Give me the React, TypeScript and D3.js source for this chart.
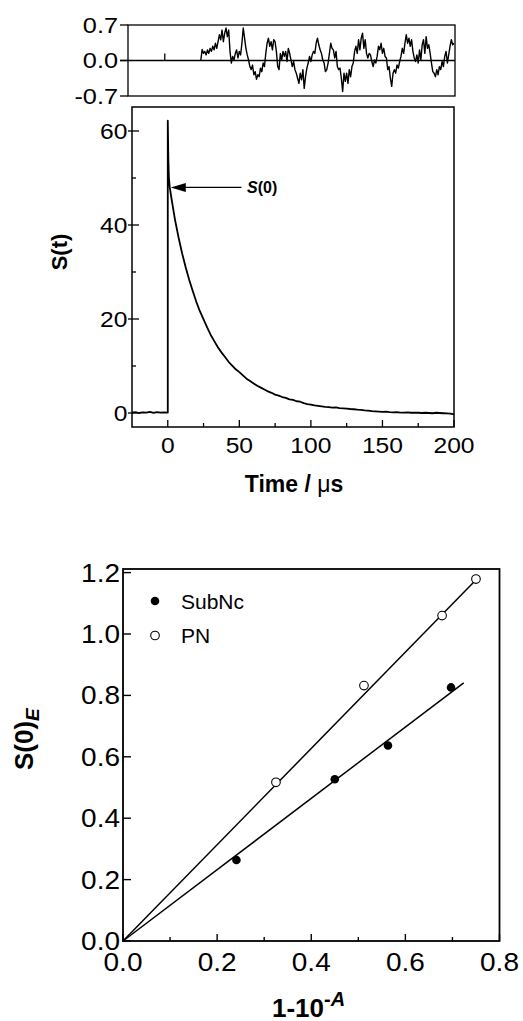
import React from "react";
import * as d3 from "d3";

const FONT = "'Liberation Sans', Arial, Helvetica, sans-serif";

// ---------- Residual panel data ----------
const residualTicks = [-0.7, 0.0, 0.7];
const residualStartTime = 23.1;
const residualEndTime = 200;
const residualValues = [
  0.01, 0.22, 0.14, 0.18, 0.11, 0.21, 0.14, 0.24, 0.18, 0.28, 0.21, 0.34, 0.24, 0.37, 0.51, 0.41,
  0.6, 0.37, 0.54, 0.64, 0.47, 0.6, 0.18, -0.05, 0.08, 0.01, 0.14, 0.21, 0.05, 0.18, 0.11, 0.34,
  0.64, 0.44, 0.24, 0.11, 0.01, -0.12, -0.18, -0.09, -0.28, -0.22, -0.37, -0.28, -0.32, -0.15, -0.22, -0.05,
  -0.12, 0.14, 0.34, 0.44, 0.28, 0.37, 0.21, 0.41, 0.37, 0.18, -0.12, -0.18, 0.14, 0.01, 0.18, 0.08,
  0.18, -0.02, 0.24, 0.14, 0.01, -0.12, -0.02, -0.18, -0.25, -0.35, -0.45, -0.25, -0.38, -0.18, -0.55, -0.32,
  -0.15, -0.05, 0.08, -0.02, 0.11, 0.18, 0.14, 0.34, 0.44, 0.31, 0.21, 0.14, 0.01, -0.05, -0.22, -0.18,
  -0.05, 0.14, 0.34, 0.24, 0.21, 0.05, 0.18, -0.12, -0.18, -0.15, -0.35, -0.61, -0.25, -0.41, -0.25, -0.45,
  -0.18, -0.32, -0.12, -0.05, 0.18, 0.28, 0.14, 0.41, 0.21, 0.44, 0.54, 0.24, 0.41, 0.14, 0.05, 0.14,
  0.11, -0.02, -0.12, 0.01, -0.05, 0.08, 0.28, 0.21, 0.34, 0.14, 0.24, 0.08, 0.05, -0.18, -0.12, -0.35,
  -0.51, -0.25, -0.18, -0.25, -0.09, -0.15, -0.02, 0.08, 0.24, 0.14, 0.34, 0.51, 0.34, 0.44, 0.28, 0.41,
  0.18, 0.05, -0.02, 0.11, -0.05, 0.21, 0.01, 0.31, 0.41, 0.14, 0.47, 0.24, 0.31, 0.14, -0.05, -0.22,
  -0.25, -0.32, -0.18, -0.28, -0.12, -0.18, -0.02, -0.12, 0.08, 0.18, -0.05, 0.11, 0.28, 0.41, 0.31, 0.34,
];
const residualGlitchTime = [-2.1, -2.1];
const residualGlitchValue = [0.0, 0.14];

// ---------- Decay trace data ----------
const decayTime = [
  -25, -22.5, -20, -17.5, -15, -12.5, -10, -7.5, -5, -2.5, 0, 0, 0.4, 0.8, 1.4, 2.5, 5, 7.5, 10, 12.5, 15,
  17.5, 20, 22.5, 25, 27.5, 30, 32.5, 35, 37.5, 40, 42.5, 45, 47.5, 50, 52.5, 55, 57.5, 60, 62.5, 65,
  67.5, 70, 72.5, 75, 77.5, 80, 82.5, 85, 87.5, 90, 92.5, 95, 97.5, 100, 102.5, 105, 107.5, 110, 112.5,
  115, 117.5, 120, 122.5, 125, 127.5, 130, 132.5, 135, 137.5, 140, 142.5, 145, 147.5, 150, 152.5, 155,
  157.5, 160, 162.5, 165, 167.5, 170, 172.5, 175, 177.5, 180, 182.5, 185, 187.5, 190, 192.5, 195, 197.5, 200,
];
const decayValue = [
  0.1, 0.2, 0.0, 0.15, 0.1, 0.25, 0.05, 0.2, 0.1, 0.15, 0.1, 62.2, 54, 50, 48, 45.8, 41.2, 37.4, 34.0, 31.0, 28.3,
  25.9, 23.6, 21.6, 19.9, 18.2, 16.6, 15.3, 14.0, 12.9, 11.9, 10.9, 10.1, 9.3, 8.7, 8.0, 7.3, 6.8, 6.3, 5.8, 5.4,
  5.0, 4.6, 4.3, 3.9, 3.7, 3.4, 3.2, 2.9, 2.8, 2.5, 2.4, 2.1, 1.9, 1.8, 1.6, 1.5, 1.4, 1.3, 1.25,
  1.15, 1.2, 1.05, 1.0, 0.95, 0.85, 0.8, 0.7, 0.65, 0.55, 0.5, 0.4, 0.35, 0.3, 0.25, 0.3, 0.2,
  0.15, 0.2, 0.1, 0.1, 0.15, 0.05, 0.1, 0.05, 0.0, 0.05, 0.0, -0.05, 0.05, 0.0, -0.05, -0.1, -0.15, -0.3,
];
const decayXTicks = [0, 50, 100, 150, 200];
const decayXMinor = [25, 75, 125, 175];
const decayYTicks = [0, 20, 40, 60];
const decayYMinor = [10, 30, 50];
const annotationTime = 1.4;
const annotationValue = 48;

// ---------- Bottom chart data ----------
const seriesNames = ["SubNc", "PN"];
const subncX = [0.241, 0.45, 0.563, 0.697];
const subncY = [0.264, 0.527, 0.637, 0.826];
const pnX = [0.325, 0.512, 0.678, 0.75];
const pnY = [0.517, 0.832, 1.06, 1.179];
const subncFitX = [0, 0.724];
const subncFitY = [0, 0.841];
const pnFitX = [0, 0.757];
const pnFitY = [0, 1.187];
const bottomXTicks = [0, 0.2, 0.4, 0.6, 0.8];
const bottomXMinor = [0.1, 0.3, 0.5, 0.7];
const bottomYTicks = [0, 0.2, 0.4, 0.6, 0.8, 1.0, 1.2];

function SText(props: {
  x: number;
  y: number;
  sx: number;
  size: number;
  anchor?: "start" | "middle" | "end";
  children: React.ReactNode;
}) {
  return (
    <text
      transform={`translate(${props.x},${props.y}) scale(${props.sx},1)`}
      textAnchor={props.anchor || "start"}
      fontSize={props.size}
      fontFamily={FONT}
    >
      {props.children}
    </text>
  );
}

export default function App() {
  // main decay panel
  const mL = 132, mR = 454, mT = 107, mB = 427;
  const x = d3.scaleLinear().domain([-25, 200]).range([mL, mR]);
  const y = d3.scaleLinear().domain([0, 60]).range([413, 131]);

  // residual panel
  const rL = 128, rR = 455, rT = 25, rB = 96;
  const yr = d3.scaleLinear().domain([-0.7, 0.7]).range([rB, rT]);
  const idxToTime = d3.scaleLinear().domain([0, residualValues.length - 1]).range([residualStartTime, residualEndTime]);

  const resLine = d3.line<number>().x((_, i) => x(idxToTime(i))).y((d) => yr(d));
  const glitchLine = d3.line<number>().x((_, i) => x(residualGlitchTime[i])).y((d) => yr(d));
  const decayLine = d3.line<number>().x((_, i) => x(decayTime[i])).y((d) => y(d));

  // bottom panel
  const bL = 123, bR = 499.5, bT = 569, bB = 941;
  const bx = d3.scaleLinear().domain([0, 0.8]).range([bL, bR]);
  const by = d3.scaleLinear().domain([0, 1.2]).range([bB, 572.6]);
  const fit = d3.line<number>();

  const bold = { fontFamily: FONT, fontWeight: 700 } as const;
  const reg = { fontFamily: FONT } as const;

  return (
    <svg width={523} height={1021} style={{ position: "absolute", left: 0, top: 0, background: "#fff" }}>
      <rect x={0} y={0} width={523} height={1021} fill="#fff" />
      {/* ===== Residual panel ===== */}
      <rect x={rL} y={rT} width={rR - rL} height={rB - rT} fill="none" stroke="#000" strokeWidth={1.3} />
      <line x1={rL - 8} x2={rR} y1={yr(0)} y2={yr(0)} stroke="#000" strokeWidth={1.3} />
      {residualTicks.map((t) => (
        <g key={"rt" + t}>
          <line x1={rL - 8} x2={rL} y1={yr(t)} y2={yr(t)} stroke="#000" strokeWidth={1.3} />
          <SText x={118} y={yr(t) + 7.5} sx={1.15} size={22} anchor="end">
            {t.toFixed(1)}
          </SText>
        </g>
      ))}
      <path d={resLine(residualValues) || ""} fill="none" stroke="#000" strokeWidth={1.4} strokeLinejoin="round" />
      <path d={glitchLine(residualGlitchValue) || ""} fill="none" stroke="#000" strokeWidth={1.3} />

      {/* ===== Decay panel ===== */}
      <rect x={mL} y={mT} width={mR - mL} height={mB - mT} fill="none" stroke="#000" strokeWidth={1.5} />
      {decayYTicks.map((t) => (
        <g key={"yt" + t}>
          <line x1={mL - 4} x2={mL + 7} y1={y(t)} y2={y(t)} stroke="#000" strokeWidth={1.3} />
          <SText x={127.5} y={y(t) + 7.5} sx={1.12} size={22} anchor="end">
            {t}
          </SText>
        </g>
      ))}
      {decayYMinor.map((t) => (
        <line key={"ym" + t} x1={mL} x2={mL + 4} y1={y(t)} y2={y(t)} stroke="#000" strokeWidth={1.3} />
      ))}
      {decayXTicks.map((t) => (
        <g key={"xt" + t}>
          <line x1={x(t)} x2={x(t)} y1={mB} y2={mB - 7} stroke="#000" strokeWidth={1.3} />
          <SText x={x(t)} y={453} sx={1.12} size={22} anchor="middle">
            {t}
          </SText>
        </g>
      ))}
      {decayXMinor.map((t) => (
        <line key={"xm" + t} x1={x(t)} x2={x(t)} y1={mB} y2={mB - 4} stroke="#000" strokeWidth={1.3} />
      ))}
      <path d={decayLine(decayValue) || ""} fill="none" stroke="#000" strokeWidth={1.8} strokeLinejoin="round" />
      {/* annotation */}
      <line x1={x(annotationTime) + 14} x2={241.5} y1={y(annotationValue)} y2={y(annotationValue)} stroke="#000" strokeWidth={1.4} />
      <path d={`M${x(annotationTime) + 1},${y(annotationValue)} l15,-4.5 l0,9 z`} fill="#000" />
      <text x={247} y={y(annotationValue) + 6} fontSize={16} style={bold}>
        <tspan fontStyle="italic">S</tspan>(0)
      </text>
      <text transform="translate(67,252) rotate(-90)" textAnchor="middle" fontSize={22} style={bold}>
        S(t)
      </text>
      <text x={294} y={492} textAnchor="middle" fontSize={23} style={bold}>
        Time / <tspan fontWeight={400}>μ</tspan>s
      </text>

      {/* ===== Bottom panel ===== */}
      <rect x={bL} y={bT} width={bR - bL} height={bB - bT} fill="none" stroke="#000" strokeWidth={1.8} />
      {bottomYTicks.map((t) => (
        <g key={"byt" + t}>
          <line x1={bL} x2={bL + 8} y1={by(t)} y2={by(t)} stroke="#000" strokeWidth={1.4} />
          <SText x={120} y={by(t) + 9} sx={1.12} size={25} anchor="end">
            {t.toFixed(1)}
          </SText>
        </g>
      ))}
      {bottomXTicks.map((t) => (
        <g key={"bxt" + t}>
          <line x1={bx(t)} x2={bx(t)} y1={bB} y2={bB - 7} stroke="#000" strokeWidth={1.4} />
          <SText x={bx(t)} y={971} sx={1.12} size={25} anchor="middle">
            {t.toFixed(1)}
          </SText>
        </g>
      ))}
      {bottomXMinor.map((t) => (
        <line key={"bxm" + t} x1={bx(t)} x2={bx(t)} y1={bB} y2={bB - 4} stroke="#000" strokeWidth={1.4} />
      ))}
      <path
        d={fit(subncFitX.map((v, i) => [bx(v), by(subncFitY[i])] as [number, number])) || ""}
        stroke="#000"
        strokeWidth={1.5}
        fill="none"
      />
      <path
        d={fit(pnFitX.map((v, i) => [bx(v), by(pnFitY[i])] as [number, number])) || ""}
        stroke="#000"
        strokeWidth={1.5}
        fill="none"
      />
      {subncX.map((v, i) => (
        <circle key={"s" + i} cx={bx(v)} cy={by(subncY[i])} r={4.3} fill="#000" />
      ))}
      {pnX.map((v, i) => (
        <circle key={"p" + i} cx={bx(v)} cy={by(pnY[i])} r={4.3} fill="#fff" stroke="#000" strokeWidth={1.1} />
      ))}
      {/* legend */}
      <circle cx={155} cy={601} r={4.3} fill="#000" />
      <text x={181} y={608.5} fontSize={21} style={reg}>
        {seriesNames[0]}
      </text>
      <circle cx={155} cy={635.5} r={4.3} fill="#fff" stroke="#000" strokeWidth={1.1} />
      <text x={181} y={643} fontSize={21} style={reg}>
        {seriesNames[1]}
      </text>
      {/* axis titles */}
      <text transform="translate(33,770) rotate(-90)" fontSize={26} style={bold}>
        S(0)
        <tspan fontSize={19} fontStyle="italic" dy={6}>
          E
        </tspan>
      </text>
      <text x={272} y={1016.5} fontSize={26} style={bold}>
        1-10
        <tspan fontSize={20} dy={-11}>
          -
        </tspan>
        <tspan fontSize={20} fontStyle="italic">
          A
        </tspan>
      </text>
    </svg>
  );
}
